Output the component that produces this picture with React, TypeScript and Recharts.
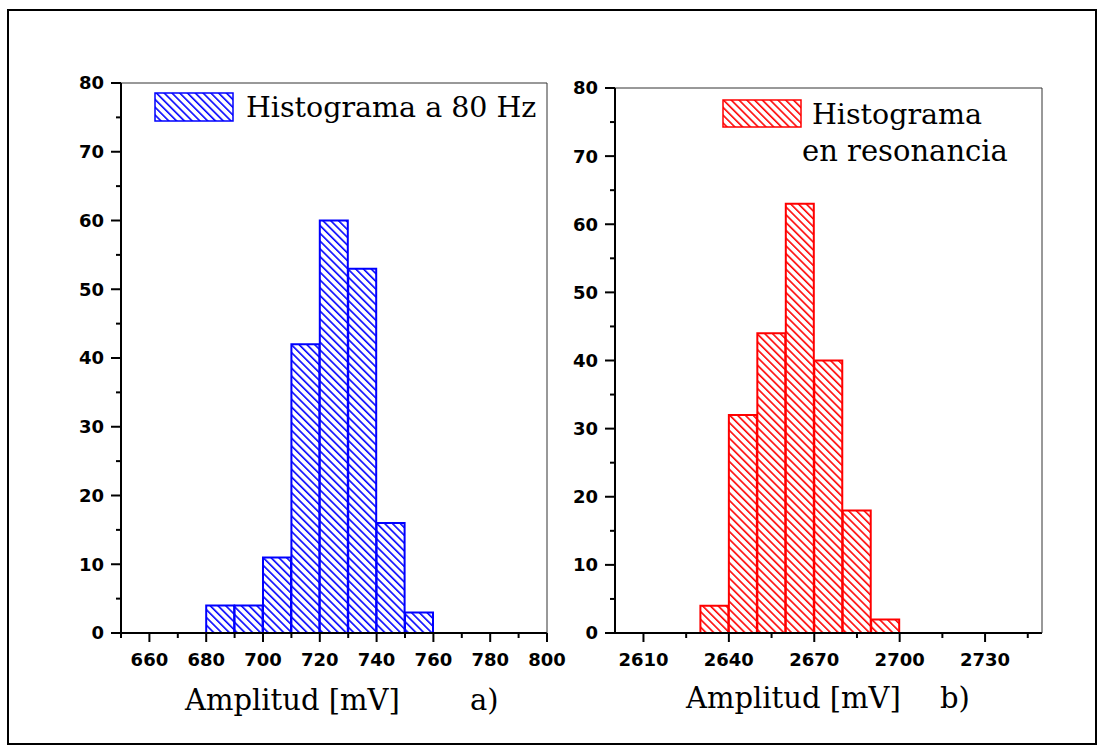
import React from 'react';
import { BarChart, Bar, XAxis, YAxis } from 'recharts';

// ---- data ----
const binsA = [650, 660, 670, 680, 690, 700, 710, 720, 730, 740, 750, 760, 770, 780, 790];
const countsA = [0, 0, 0, 4, 4, 11, 42, 60, 53, 16, 3, 0, 0, 0, 0];
const majorTicksA = [660, 680, 700, 720, 740, 760, 780, 800];
const minorTicksA = [650, 670, 690, 710, 730, 750, 770, 790];

const binsB = [2600, 2610, 2620, 2630, 2640, 2650, 2660, 2670, 2680, 2690, 2700, 2710, 2720, 2730, 2740];
const countsB = [0, 0, 0, 4, 32, 44, 63, 40, 18, 2, 0, 0, 0, 0, 0];
const majorTicksB = [2610, 2640, 2670, 2700, 2730];
const minorTicksB = [2625, 2655, 2685, 2715, 2745];

const majorTicksY = [0, 10, 20, 30, 40, 50, 60, 70, 80];
const minorTicksY = [5, 15, 25, 35, 45, 55, 65, 75];

const legendA = 'Histograma a 80 Hz';
const legendB1 = 'Histograma';
const legendB2 = 'en resonancia';
const xLabel = 'Amplitud [mV]';

const dataA = binsA.map((b, i) => ({ bin: b, count: countsA[i] }));
const dataB = binsB.map((b, i) => ({ bin: b, count: countsB[i] }));

const TICK_FONT = { fontFamily: 'DejaVu Sans', fontWeight: 'bold' as const, fontSize: 18, fill: '#000' };
const SERIF = 'DejaVu Serif';

const makeXTick = (majors: number[]) => (props: any) => {
  const { x, y, payload } = props;
  const v = payload.value;
  const major = majors.includes(v);
  return (
    <g>
      <line x1={x} y1={y} x2={x} y2={y + (major ? 9 : 5)} stroke="#000" strokeWidth={2} />
      {major && (
        <text x={x} y={y + 33} textAnchor="middle" {...TICK_FONT}>
          {v}
        </text>
      )}
    </g>
  );
};

const YTick = (props: any) => {
  const { x, y, payload } = props;
  const v = payload.value;
  const major = majorTicksY.includes(v);
  return (
    <g>
      <line x1={x} y1={y} x2={x - (major ? 10 : 5)} y2={y} stroke="#000" strokeWidth={2} />
      {major && (
        <text x={x - 17} y={y} dy="0.36em" textAnchor="end" {...TICK_FONT}>
          {v}
        </text>
      )}
    </g>
  );
};

const allY = [...majorTicksY, ...minorTicksY].sort((a, b) => a - b);

function Panel(props: {
  data: any[];
  domain: [number, number];
  majors: number[];
  minors: number[];
  color: string;
  pattern: string;
  width: number;
  margin: any;
}) {
  const { data, domain, majors, minors, color, pattern, width, margin } = props;
  const ticks = [...majors, ...minors].sort((a, b) => a - b);
  return (
    <BarChart width={width} height={749} data={data} margin={margin} barCategoryGap={0} barGap={0}>
      <XAxis
        xAxisId="num"
        dataKey="bin"
        type="number"
        domain={domain}
        allowDataOverflow
        ticks={ticks}
        interval={0}
        height={1}
        tickSize={0}
        tickMargin={0}
        tickLine={false}
        tick={makeXTick(majors)}
        axisLine={{ stroke: '#000', strokeWidth: 2 }}
      />
      <XAxis xAxisId="cat" dataKey="bin" type="category" hide height={0} />
      <XAxis
        xAxisId="top"
        orientation="top"
        dataKey="bin"
        type="number"
        domain={domain}
        allowDataOverflow
        height={1}
        tick={false}
        tickLine={false}
        axisLine={{ stroke: '#333', strokeWidth: 1 }}
      />
      <YAxis
        yAxisId="left"
        type="number"
        domain={[0, 80]}
        allowDataOverflow
        ticks={allY}
        interval={0}
        width={1}
        tickSize={0}
        tickMargin={0}
        tickLine={false}
        tick={YTick}
        axisLine={{ stroke: '#000', strokeWidth: 2 }}
      />
      <YAxis
        yAxisId="right"
        orientation="right"
        type="number"
        domain={[0, 80]}
        allowDataOverflow
        width={1}
        tick={false}
        tickLine={false}
        axisLine={{ stroke: '#333', strokeWidth: 1 }}
      />
      <Bar
        xAxisId="cat"
        yAxisId="left"
        dataKey="count"
        fill={`url(#${pattern})`}
        stroke={color}
        strokeWidth={2}
        isAnimationActive={false}
      />
    </BarChart>
  );
}

export default function App() {
  return (
    <div style={{ position: 'absolute', left: 0, top: 0, width: 1103, height: 749, background: '#fff' }}>
      <svg width={0} height={0} style={{ position: 'absolute', left: 0, top: 0 }}>
        <defs>
          <pattern id="hatchBlue" patternUnits="userSpaceOnUse" width={5.5} height={5.5} patternTransform="rotate(-45)">
            <rect width={5.5} height={5.5} fill="#fff" />
            <line x1={0.8} y1={0} x2={0.8} y2={5.5} stroke="#0000ff" strokeWidth={1.6} />
          </pattern>
          <pattern id="hatchRed" patternUnits="userSpaceOnUse" width={5.5} height={5.5} patternTransform="rotate(-45)">
            <rect width={5.5} height={5.5} fill="#fff" />
            <line x1={0.8} y1={0} x2={0.8} y2={5.5} stroke="#ff0000" strokeWidth={1.6} />
          </pattern>
        </defs>
      </svg>
      <div style={{ position: 'absolute', left: 0, top: 0 }}>
        <Panel
          data={dataA}
          domain={[650, 800]}
          majors={majorTicksA}
          minors={minorTicksA}
          color="#0000ff"
          pattern="hatchBlue"
          width={600}
          margin={{ top: 82, right: 52, bottom: 115, left: 120 }}
        />
      </div>
      <div style={{ position: 'absolute', left: 500, top: 0 }}>
        <Panel
          data={dataB}
          domain={[2600, 2750]}
          majors={majorTicksB}
          minors={minorTicksB}
          color="#ff0000"
          pattern="hatchRed"
          width={603}
          margin={{ top: 87, right: 60, bottom: 115, left: 114 }}
        />
      </div>
      <svg width={1103} height={749} style={{ position: 'absolute', left: 0, top: 0, pointerEvents: 'none' }}>
        <rect x={8} y={10} width={1088} height={734} fill="none" stroke="#000" strokeWidth={2} />
        {/* legend a */}
        <rect x={155} y={93} width={78} height={28} fill="url(#hatchBlue)" stroke="#0000ff" strokeWidth={1.5} />
        <text x={246} y={117} fontFamily={SERIF} fontSize={28.5} fill="#000">{legendA}</text>
        {/* legend b */}
        <rect x={723} y={100} width={78} height={27} fill="url(#hatchRed)" stroke="#ff0000" strokeWidth={1.5} />
        <text x={812} y={124} fontFamily={SERIF} fontSize={28.5} fill="#000">{legendB1}</text>
        <text x={802} y={161} fontFamily={SERIF} fontSize={29} fill="#000">{legendB2}</text>
        {/* axis titles */}
        <text x={185} y={710} fontFamily={SERIF} fontSize={29} fill="#000">{xLabel}</text>
        <text x={470} y={710} fontFamily={SERIF} fontSize={29} fill="#000">a)</text>
        <text x={686} y={708} fontFamily={SERIF} fontSize={29} fill="#000">{xLabel}</text>
        <text x={940} y={708} fontFamily={SERIF} fontSize={29} fill="#000">b)</text>
      </svg>
    </div>
  );
}
